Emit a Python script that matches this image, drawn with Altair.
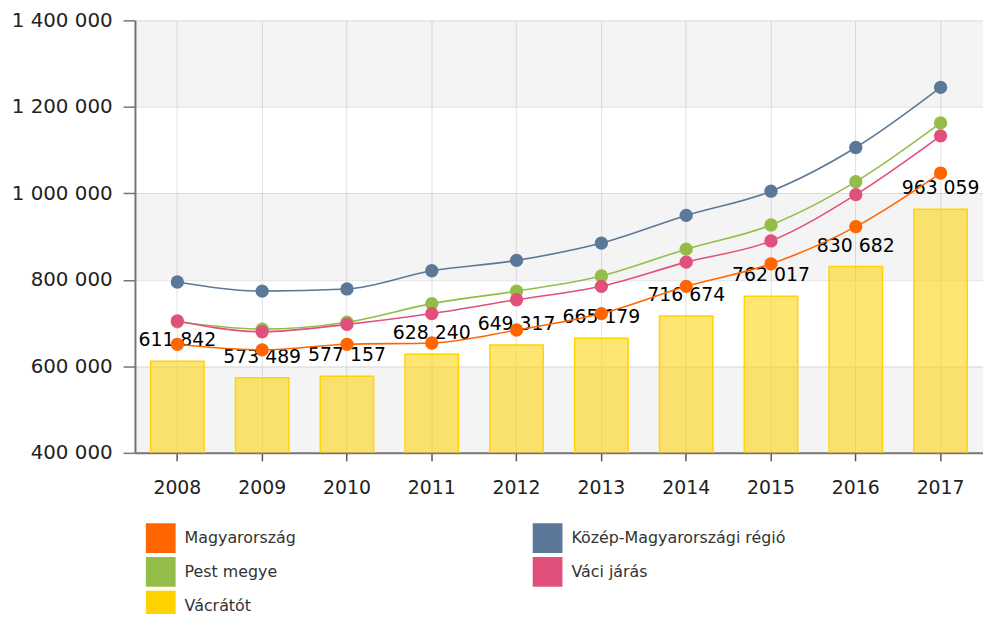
import altair as alt
import pandas as pd

years = ["2008", "2009", "2010", "2011", "2012", "2013", "2014", "2015", "2016", "2017"]
# legend order (fills column by column: 3 rows x 2 columns)
series_names = ["Magyarország", "Pest megye", "Vácrátót", "Közép-Magyarországi régió", "Váci járás"]
series_colors = ["#FF6600", "#94BD48", "#FFD200", "#5B7899", "#E0507A"]

line_names = ["Magyarország", "Közép-Magyarországi régió", "Pest megye", "Váci járás"]
magyarorszag = [651000, 638000, 651000, 654000, 684000, 722000, 785000, 837000, 923000, 1047000]
kozep = [795000, 774000, 779000, 821000, 845000, 885000, 949000, 1005000, 1106000, 1245000]
pest = [703000, 686000, 702000, 745000, 774000, 809000, 871000, 927000, 1027000, 1163000]
vaci = [705000, 680000, 697000, 722000, 754000, 785000, 841000, 890000, 997000, 1133000]
vacratot = [611842, 573489, 577157, 628240, 649317, 665179, 716674, 762017, 830682, 963059]

y_ticks = [400000, 600000, 800000, 1000000, 1200000, 1400000]
band_lo = [400000, 800000, 1200000]
band_hi = [600000, 1000000, 1400000]

rows = []
for name, vals in zip(line_names, [magyarorszag, kozep, pest, vaci]):
    for yr, v in zip(years, vals):
        rows.append({"year": yr, "series": name, "value": v})
line_df = pd.DataFrame(rows)
bar_df = pd.DataFrame({"year": years, "series": "Vácrátót", "value": vacratot})
band_df = pd.DataFrame({"lo": band_lo, "hi": band_hi})

W, H = 855, 436
FONT = "DejaVu Sans"

y_scale = alt.Scale(domain=[400000, 1400000], nice=False, zero=False)
y_axis = alt.Axis(
    title=None, values=y_ticks, format=",d", labelFont=FONT, labelFontSize=20,
    labelColor="#222222", tickSize=12, tickColor="#777777", domainColor="#777777",
    domainWidth=2, tickWidth=1.5, gridColor="#e2e2e2", labelPadding=11, grid=True,
)
x_scale = alt.Scale(domain=years, paddingInner=0.37, paddingOuter=0.185)
x_axis = alt.Axis(
    title=None, labelAngle=0, labelFont=FONT, labelFontSize=19, labelColor="#222222",
    tickSize=8, tickColor="#555555", tickWidth=1.5, domainColor="#777777", domainWidth=2,
    labelPadding=18, grid=True, gridColor="#e2e2e2",
)
color_scale = alt.Scale(domain=series_names, range=series_colors)

bands = alt.Chart(band_df).mark_rect(color="black", opacity=0.043).encode(
    y=alt.Y("lo:Q", scale=y_scale, axis=y_axis),
    y2="hi:Q",
    x=alt.value(0),
    x2=alt.value(W),
)

bars = alt.Chart(bar_df).mark_bar(
    fillOpacity=0.55, stroke="#FFD400", strokeWidth=1.5, clip=True
).encode(
    x=alt.X("year:N", scale=x_scale, axis=x_axis),
    y=alt.Y("value:Q", scale=y_scale, axis=y_axis),
    color=alt.Color(
        "series:N", scale=color_scale,
        legend=alt.Legend(
            title=None, orient="none", legendX=11, legendY=507, columns=2,
            columnPadding=238, rowPadding=4, symbolType="square", symbolSize=900,
            symbolStrokeWidth=0, symbolOpacity=1, labelFont=FONT, labelFontSize=16,
            labelColor="#333333", labelOffset=9, labelLimit=400, padding=0,
        ),
    ),
)

labels = alt.Chart(bar_df).mark_text(
    dy=-21, fontSize=19, font=FONT, color="black"
).encode(
    x=alt.X("year:N", scale=x_scale, axis=x_axis),
    y=alt.Y("value:Q", scale=y_scale, axis=y_axis),
    text=alt.Text("value:Q", format=",d"),
)

lines = alt.Chart(line_df).mark_line(interpolate="monotone", strokeWidth=1.6).encode(
    x=alt.X("year:N", scale=x_scale, axis=x_axis),
    y=alt.Y("value:Q", scale=y_scale, axis=y_axis),
    color=alt.Color("series:N", scale=color_scale, legend=None),
    detail="series:N",
)

points = alt.Chart(line_df).mark_circle(size=180, opacity=1).encode(
    x=alt.X("year:N", scale=x_scale, axis=x_axis),
    y=alt.Y("value:Q", scale=y_scale, axis=y_axis),
    color=alt.Color("series:N", scale=color_scale, legend=None),
)

chart = alt.layer(bands, bars, labels, lines, points).properties(
    width=W, height=H,
    padding={"left": 128, "top": 10, "right": 0, "bottom": 160},
    autosize=alt.AutoSizeParams(type="none"),
).configure(
    locale={"number": {"decimal": ",", "thousands": " ", "grouping": [3], "currency": ["", ""]}}
).configure_view(stroke=None)

chart.save("out.html", embed_options={"renderer": "svg", "actions": False})
